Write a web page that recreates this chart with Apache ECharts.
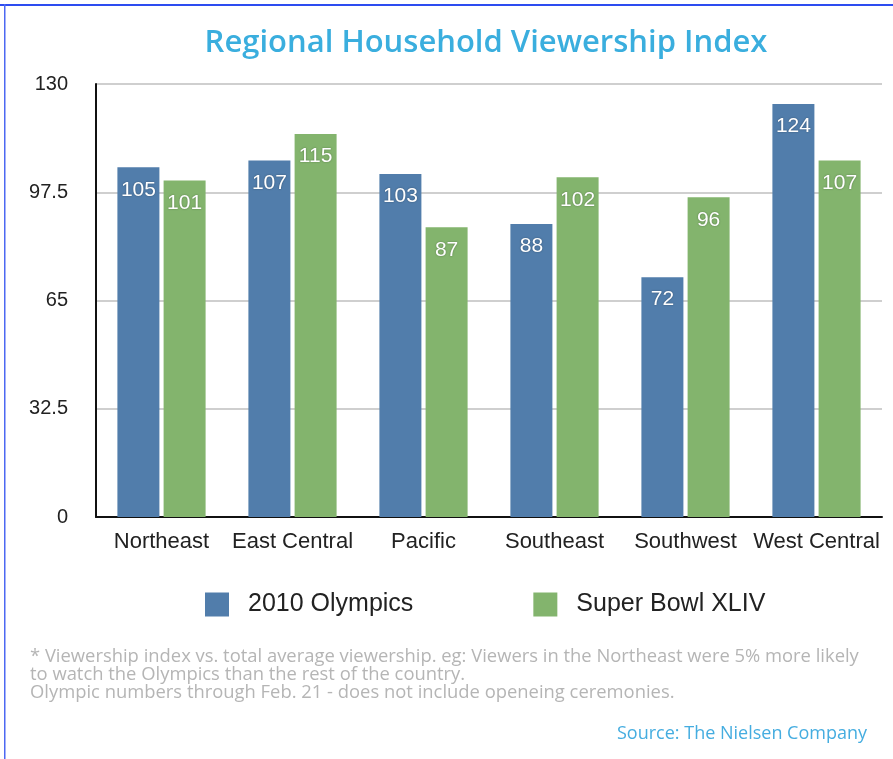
<!DOCTYPE html>
<html>
<head>
    <meta charset="UTF-8">
    <title>Regional Household Viewership Index</title>
    <script src="https://cdn.jsdelivr.net/npm/echarts@6/dist/echarts.min.js"></script>
</head>
<body style="margin:0">
<div id="main" style="width: 893px;height:759px;"></div>
<script type="text/javascript">
    // data
    var regions = ['Northeast', 'East Central', 'Pacific', 'Southeast', 'Southwest', 'West Central'];
    var olympics = [105, 107, 103, 88, 72, 124];
    var superBowl = [101, 115, 87, 102, 96, 107];
    var seriesNames = ['2010 Olympics', 'Super Bowl XLIV'];
    var footnote = [
        '* Viewership index vs. total average viewership. eg: Viewers in the Northeast were 5% more likely',
        'to watch the Olympics than the rest of the country.',
        'Olympic numbers through Feb. 21 - does not include openeing ceremonies.'
    ];

    var myChart = echarts.init(document.getElementById('main'));

    var barLabel = {
        show: true,
        position: 'insideTop',
        distance: 12,
        color: '#fff',
        fontSize: 21,
        fontFamily: 'Liberation Sans',
        textShadowColor: 'rgba(0,0,0,0.35)',
        textShadowBlur: 2
    };

    var option = {
        backgroundColor: '#fff',
        animation: false,
        title: {
            text: 'Regional Household Viewership Index',
            left: 481,
            textAlign: 'center',
            top: 23,
            textStyle: {
                color: '#3aaede',
                fontSize: 31,
                fontWeight: 600,
                fontFamily: 'Open Sans'
            }
        },
        legend: {
            data: seriesNames,
            icon: 'rect',
            left: 200,
            top: 587,
            itemWidth: 24,
            itemHeight: 24,
            itemGap: 120,
            textStyle: {
                color: '#222',
                fontSize: 25,
                fontFamily: 'Liberation Sans',
                padding: [0, 0, 0, 14]
            }
        },
        grid: {
            left: 96,
            right: 11,
            top: 84,
            bottom: 242
        },
        xAxis: {
            type: 'category',
            data: regions,
            axisLine: {lineStyle: {color: '#111', width: 2}},
            axisTick: {show: false},
            axisLabel: {
                color: '#222',
                fontSize: 22,
                fontFamily: 'Liberation Sans',
                margin: 14,
                interval: 0
            }
        },
        yAxis: {
            type: 'value',
            min: 0,
            max: 130,
            interval: 32.5,
            axisLine: {show: true, lineStyle: {color: '#111', width: 2}},
            axisTick: {show: false},
            axisLabel: {
                color: '#222',
                fontSize: 20,
                fontFamily: 'Liberation Sans',
                margin: 28
            },
            splitLine: {lineStyle: {color: '#cfcfcf', width: 2}}
        },
        series: [
            {
                name: seriesNames[0],
                type: 'bar',
                data: olympics,
                barWidth: 42,
                barGap: '10%',
                itemStyle: {color: '#517dab'},
                label: barLabel
            },
            {
                name: seriesNames[1],
                type: 'bar',
                data: superBowl,
                barWidth: 42,
                itemStyle: {color: '#83b46d'},
                label: barLabel
            }
        ],
        graphic: [
            {
                type: 'rect',
                shape: {x: 0, y: 4, width: 893, height: 2},
                style: {fill: '#2d4cf0'}
            },
            {
                type: 'rect',
                shape: {x: 4, y: 4, width: 1.5, height: 755},
                style: {fill: '#4d68f2'}
            },
            {
                type: 'text',
                left: 30,
                top: 648,
                style: {
                    text: footnote.join('\n'),
                    fill: '#b5b5b5',
                    font: '18.4px "Open Sans"',
                    lineHeight: 18
                }
            },
            {
                type: 'text',
                right: 26,
                top: 725,
                style: {
                    text: 'Source: The Nielsen Company',
                    fill: '#45ade0',
                    font: '18px "Open Sans"'
                }
            }
        ]
    };

    myChart.setOption(option);
</script>
</body>
</html>
